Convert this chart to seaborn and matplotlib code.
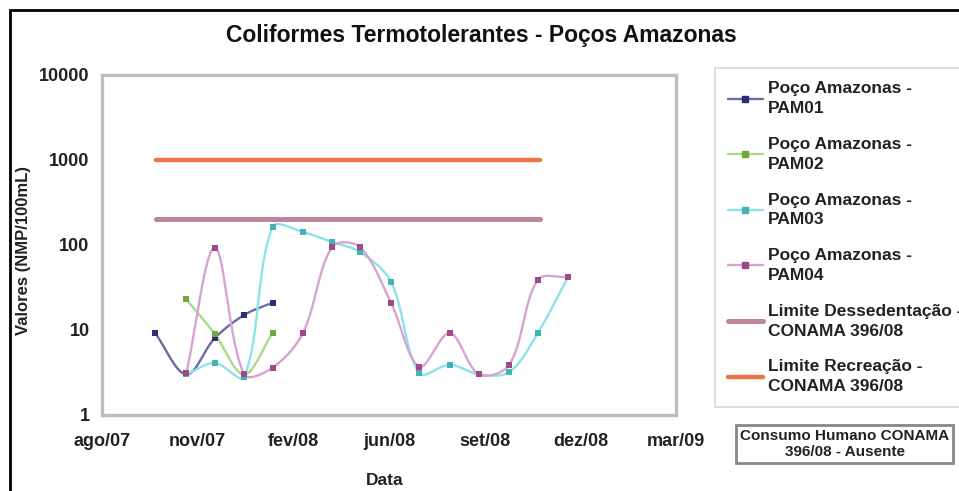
import numpy as np
import pandas as pd
import matplotlib
matplotlib.use("Agg")
import matplotlib.pyplot as plt
import matplotlib.dates as mdates
from matplotlib.lines import Line2D
import seaborn as sns

# sampling dates (approx. monthly)
dates = pd.to_datetime([
    "2007-09-28", "2007-10-31", "2007-11-30", "2007-12-31", "2008-01-30",
    "2008-03-02", "2008-04-02", "2008-05-01", "2008-06-03", "2008-07-03",
    "2008-08-04", "2008-09-04", "2008-10-06", "2008-11-05", "2008-12-07",
])

# values (NMP/100mL), None = no sample
pam01 = [9.2, 3.0, 8.0, 15, 21, None, None, None, None, None, None, None, None, None, None]
pam02 = [None, 23, 9.0, 3.0, 9.2, None, None, None, None, None, None, None, None, None, None]
pam03 = [None, 3.0, 4.1, 2.8, 163, 142, 108, 83, 37, 3.1, 3.9, 3.0, 3.2, 9.2, 42]
pam04 = [None, 3.1, 93, 3.0, 3.6, 9.2, 95, 95, 21, 3.7, 9.2, 3.0, 3.9, 39, 42]

limit_dates = pd.to_datetime(["2007-09-29", "2008-11-07"])
lim_dessedentacao = 200
lim_recreacao = 1000

# x axis: ticks every 101 days starting 03/08/2007
tick_start = pd.Timestamp("2007-08-03")
tick_step_days = 101
tick_labels = ["ago/07", "nov/07", "fev/08", "jun/08", "set/08", "dez/08", "mar/09"]

series = [
    ("Poço Amazonas -\nPAM01", pam01, "#6b6ba6", "#2e2e70"),
    ("Poço Amazonas -\nPAM02", pam02, "#a9d98a", "#6fa83f"),
    ("Poço Amazonas -\nPAM03", pam03, "#8ce3e8", "#45b3b5"),
    ("Poço Amazonas -\nPAM04", pam04, "#d8a2d2", "#a0488a"),
]
lim_color_d = "#bf859f"
lim_color_r = "#f0704a"

# screen scale used for smoothing (px per day, px per decade)
SX, SY = 0.94, 85.0


def smooth(xn, ly, n=24):
    # excel-like smoothed line: bezier with tangents scaled by segment lengths
    pts = np.column_stack([xn * SX, ly * SY])
    P = np.vstack([pts[0], pts, pts[-1]])
    out = []
    t = np.linspace(0, 1, n)[:, None]
    for i in range(1, len(P) - 2):
        p0, p1, p2, p3 = P[i - 1], P[i], P[i + 1], P[i + 2]
        l01 = np.hypot(*(p1 - p0))
        l12 = np.hypot(*(p2 - p1))
        l23 = np.hypot(*(p3 - p2))
        f1 = l12 / (l01 + l12) / 3 if l01 + l12 > 0 else 0
        f2 = l12 / (l12 + l23) / 3 if l12 + l23 > 0 else 0
        c1 = p1 + (p2 - p0) * f1
        c2 = p2 - (p3 - p1) * f2
        out.append((1 - t) ** 3 * p1 + 3 * (1 - t) ** 2 * t * c1 + 3 * (1 - t) * t ** 2 * c2 + t ** 3 * p2)
    c = np.vstack(out)
    return c[:, 0] / SX, c[:, 1] / SY


sns.set_style("white")
plt.rcParams["font.family"] = ["Liberation Sans", "DejaVu Sans"]
plt.rcParams["font.weight"] = "bold"

fig = plt.figure(figsize=(9.59, 4.91), dpi=100)
ax = fig.add_axes([0.1064, 0.1548, 0.5986, 0.6925])

xnum = mdates.date2num(dates)

# limit lines
sns.lineplot(x=mdates.date2num(limit_dates), y=[lim_dessedentacao] * 2, color=lim_color_d,
             lw=3.6, ax=ax, legend=False)
sns.lineplot(x=mdates.date2num(limit_dates), y=[lim_recreacao] * 2, color=lim_color_r,
             lw=3.2, ax=ax, legend=False)

handles = []
for name, vals, lc, mc in series:
    v = np.array([np.nan if a is None else a for a in vals], dtype=float)
    ok = ~np.isnan(v)
    xs, ys = xnum[ok], v[ok]
    cx, cy = smooth(xs, np.log10(ys))
    sns.lineplot(x=cx, y=10 ** cy, color=lc, lw=1.7, sort=False,
                 estimator=None, ax=ax, legend=False)
    sns.scatterplot(x=xs, y=ys, color=mc, marker="s", s=16, linewidth=0, ax=ax,
                    legend=False, zorder=4)
    handles.append(Line2D([0], [0], color=lc, lw=1.7, marker="s", markersize=4,
                          markerfacecolor=mc, markeredgecolor=mc, label=name))
handles.append(Line2D([0], [0], color=lim_color_d, lw=3.6, label="Limite Dessedentação -\nCONAMA 396/08"))
handles.append(Line2D([0], [0], color=lim_color_r, lw=3.2, label="Limite Recreação -\nCONAMA 396/08"))

ax.set_yscale("log")
ax.set_ylim(1, 10000)
ax.set_yticks([1, 10, 100, 1000, 10000])
ax.set_yticklabels(["1", "10", "100", "1000", "10000"])
ax.minorticks_off()

ticks = [mdates.date2num(tick_start + pd.Timedelta(days=tick_step_days * i)) for i in range(len(tick_labels))]
ax.set_xticks(ticks)
ax.set_xticklabels(tick_labels)
ax.set_xlim(ticks[0], ticks[-1])

ax.tick_params(axis="both", labelsize=13, colors="#222222", length=3, width=1)
ax.tick_params(axis="x", pad=13, length=0)
ax.tick_params(axis="y", pad=6)
for lab in ax.get_xticklabels() + ax.get_yticklabels():
    lab.set_fontweight("bold")
for sp in ax.spines.values():
    sp.set_color("#bdbdbd")
    sp.set_linewidth(2.4)
ax.set_xlabel("")
ax.set_ylabel("")

fig.text(0.502, 0.927, "Coliformes Termotolerantes - Poços Amazonas", ha="center", va="center",
         fontsize=16.5, fontweight="bold", color="#111111")
fig.text(0.024, 0.49, "Valores (NMP/100mL)", rotation=90, ha="center", va="center",
         fontsize=12, fontweight="bold", color="#222222")
fig.text(0.4015, 0.022, "Data", ha="center", va="center", fontsize=12.5, fontweight="bold",
         color="#222222")

leg = fig.legend(handles=handles, loc="upper left", bbox_to_anchor=(0.7456, 0.861),
                 frameon=True, fancybox=False, fontsize=12.5, handlelength=2.0,
                 handletextpad=0.3, labelspacing=1.2, borderpad=0.75, borderaxespad=0)
leg.get_frame().set_edgecolor("#cccccc")
leg.get_frame().set_linewidth(1.2)
for txt in leg.get_texts():
    txt.set_fontweight("bold")
    txt.set_color("#222222")
    txt.set_linespacing(1.4)

fig.text(0.881, 0.0957, "Consumo Humano CONAMA\n396/08 - Ausente", ha="center", va="center",
         fontsize=11, fontweight="bold", color="#222222", linespacing=1.25,
         bbox=dict(boxstyle="square,pad=0.25", facecolor="white", edgecolor="#888888", linewidth=2))

# outer chart border
fig.patches.append(plt.Rectangle((0.0105, -0.1), 1.2, 1.08, transform=fig.transFigure,
                                 fill=False, edgecolor="black", linewidth=2, clip_on=False))

fig.savefig("out.png", dpi=100)
